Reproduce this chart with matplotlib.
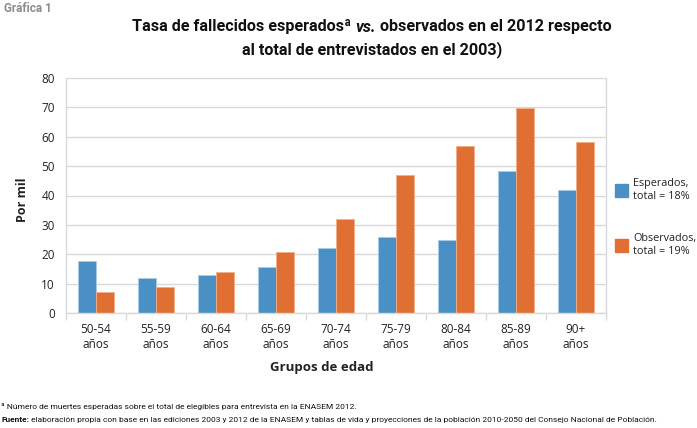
import numpy as np
import matplotlib
matplotlib.use("Agg")
import matplotlib.pyplot as plt
from matplotlib.patches import Rectangle

# Datos
grupos = ["50-54\naños", "55-59\naños", "60-64\naños", "65-69\naños", "70-74\naños",
          "75-79\naños", "80-84\naños", "85-89\naños", "90+\naños"]
esperados = [17.8, 11.8, 13.0, 15.5, 22.2, 25.9, 24.9, 48.4, 42.0]
observados = [7.0, 8.9, 14.0, 20.9, 32.0, 47.1, 56.9, 69.8, 58.1]
etiquetas = ["Esperados,\ntotal = 18%", "Observados,\ntotal = 19%"]

azul = "#4a90c4"
naranja = "#e06f33"
gris = "#d9d9d9"
narrow = ["Roboto", "DejaVu Sans"]
plt.rcParams['font.family'] = ["Open Sans", "DejaVu Sans"]

W, H = 697, 428
fig = plt.figure(figsize=(W / 100, H / 100), dpi=100)
ax = fig.add_axes([66 / W, 1 - 313 / H, 540 / W, 235 / H])

x = np.arange(len(grupos))
w = 0.293
ax.bar(x - w / 2, esperados, w, color=azul, edgecolor="#a9cbe6", linewidth=0.6)
ax.bar(x + w / 2, observados, w, color=naranja, edgecolor="#f0b08c", linewidth=0.6)

ax.set_xlim(-0.5, len(grupos) - 0.5)
ax.set_ylim(0, 80)
ax.set_yticks(range(0, 81, 10))
ax.yaxis.grid(True, color=gris, linewidth=1)
ax.set_axisbelow(True)
ax.tick_params(axis="y", length=0, labelsize=8.5, pad=8, labelcolor="#222222")
ax.set_xticks(x)
ax.set_xticklabels(grupos, fontsize=8.5, linespacing=1.25, color="#222222")
ax.tick_params(axis="x", length=0, pad=7)
ax.set_xticks(np.arange(-0.5, len(grupos), 1), minor=True)
ax.tick_params(axis="x", which="minor", length=5, color=gris, width=1)
for s in ["left", "right", "bottom"]:
    ax.spines[s].set_color(gris)
    ax.spines[s].set_linewidth(1)
ax.spines["top"].set_visible(False)

fig.text(22 / W, 1 - 200 / H, "Por mil", rotation=90, ha="center", va="center",
         fontsize=9, fontweight="bold", color="#222222")
fig.text(322 / W, 1 - 367 / H, "Grupos de edad", ha="center", va="center",
         fontsize=9.5, fontweight="bold", color="#222222")

# Leyenda
for i, (lab, col) in enumerate(zip(etiquetas, [azul, naranja])):
    yc = 1 - (190 + i * 55) / H
    fig.patches.append(Rectangle((615 / W, yc - 6.5 / H), 13 / W, 13 / H,
                                 transform=fig.transFigure, color=col))
    fig.text(633 / W, yc, lab, ha="left", va="center", fontsize=7.8,
             linespacing=1.2, color="#222222")

fig.text(4 / W, 1 - 9 / H, "Gráfica 1", ha="left", va="center", fontsize=8.5,
         fontweight="bold", color="#8c8c8c", family=narrow)

fig.canvas.draw()
r = fig.canvas.get_renderer()


def piezas(partes, x0, y, ancho=None, size=None, align="center"):
    # dibuja trozos de texto con estilos distintos uno tras otro;
    # si se da un ancho, ajusta el tamaño para ocuparlo
    objs = []
    for txt, kw in partes:
        objs.append(fig.text(0, y, txt, ha="left", va="center", fontsize=10, **kw))
    if size is None:
        total = sum(o.get_window_extent(r).width for o in objs)
        size = 10 * ancho / total
    for o in objs:
        o.set_fontsize(size)
    anchos = [o.get_window_extent(r).width for o in objs]
    xi = x0 - sum(anchos) / 2 if align == "center" else x0
    for o, a in zip(objs, anchos):
        o.set_x(xi / W)
        xi += a
    return size


tit = dict(fontweight="bold", family=narrow, color="#111111")
s = piezas([("Tasa de fallecidos esperadosª ", tit),
            ("vs.", dict(tit, style="italic")),
            (" observados en el 2012 respecto", tit)], 372, 1 - 27 / H, ancho=480)
piezas([("al total de entrevistados en el 2003)", tit)], 372, 1 - 50 / H, size=s)

nota = dict(family=narrow, color="#111111")
s2 = piezas([("Fuente:", dict(nota, fontweight="bold")),
             (" elaboración propia con base en las ediciones 2003 y 2012 de la ENASEM y tablas de vida y proyecciones de la población 2010-2050 del Consejo Nacional de Población.", nota)],
            1, 1 - 420 / H, ancho=650, align="left")
piezas([("ª Número de muertes esperadas sobre el total de elegibles para entrevista en la ENASEM 2012.", nota)],
       1, 1 - 406 / H, size=s2, align="left")

fig.savefig("out.png", dpi=100)
